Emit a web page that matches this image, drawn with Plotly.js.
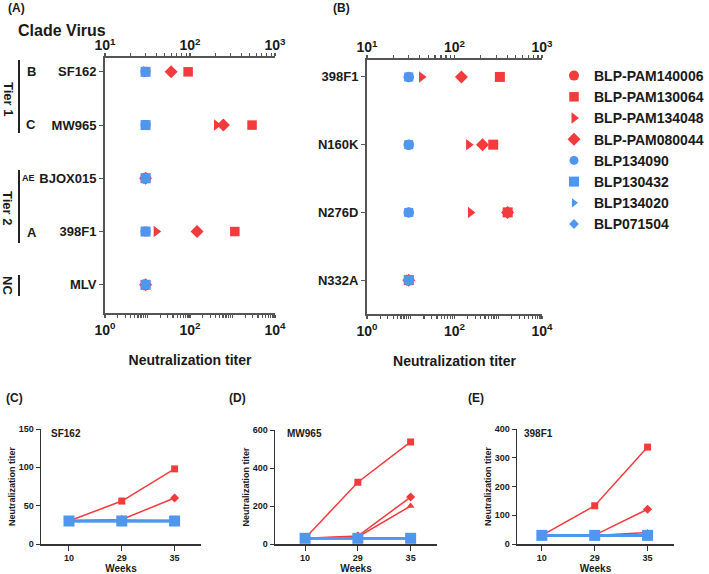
<!DOCTYPE html>
<html><head><meta charset="utf-8">
<script src="https://cdn.plot.ly/plotly-3.0.1.min.js"></script>
<style>html,body{margin:0;padding:0;background:#fff}#chart{width:709px;height:574px}</style>
</head><body><div id="chart"></div>
<script>
// ---------- DATA ----------
const seriesNames = ['BLP-PAM140006','BLP-PAM130064','BLP-PAM134048','BLP-PAM080044','BLP134090','BLP130432','BLP134020','BLP071504'];
const virusesA = ['SF162','MW965','BJOX015','398F1','MLV'];
const virusesB = ['398F1','N160K','N276D','N332A'];
const weeks = ['10','29','35'];

// Panel A titers (per virus in virusesA order)
const A_PAM140006 = [30, 30, 30, 30, 30];
const A_PAM130064 = [95, 537, 30, 337, 30];
const A_PAM134048 = [30, 205, 30, 40, 30];
const A_PAM080044 = [60, 247, 30, 121, 30];
const A_BLP134090 = [30, 30, 30, 30, 30];
const A_BLP130432 = [30, 30, 30, 30, 30];
const A_BLP134020 = [30, 30, 30, 30, 30];
const A_BLP071504 = [30, 30, 30, 30, 30];

// Panel B titers (per virus in virusesB order)
const B_PAM140006 = [30, 30, 405, 30];
const B_PAM130064 = [330, 277, 405, 30];
const B_PAM134048 = [42, 145, 152, 30];
const B_PAM080044 = [120, 209, 405, 30];
const B_BLP134090 = [30, 30, 30, 30];
const B_BLP130432 = [30, 30, 30, 30];
const B_BLP134020 = [30, 30, 30, 30];
const B_BLP071504 = [30, 30, 30, 30];

// Panel C (SF162) over weeks
const C_PAM140006 = [30, 30, 30];
const C_PAM130064 = [30, 56, 98];
const C_PAM134048 = [30, 31, 30];
const C_PAM080044 = [30, 32, 60];
const C_BLP = [30, 30, 30];
// Panel D (MW965)
const D_PAM140006 = [30, 30, 30];
const D_PAM130064 = [30, 325, 537];
const D_PAM134048 = [30, 37, 200];
const D_PAM080044 = [30, 42, 247];
const D_BLP = [30, 30, 30];
// Panel E (398F1)
const E_PAM140006 = [30, 30, 30];
const E_PAM130064 = [30, 133, 337];
const E_PAM134048 = [30, 30, 40];
const E_PAM080044 = [30, 31, 121];
const E_BLP = [30, 30, 30];

// ---------- STYLE ----------
const RED = '#f33a3d', BLUE = '#4f97ee';
const FAM = 'Liberation Sans, Arial, sans-serif';
const W = 709, H = 574;
const px = x => x / W, py = y => 1 - y / H;
const bold = (s, c) => ({family: FAM, size: s, color: c || '#1a1a1a', weight: 'bold'});

const colorsA = [RED, RED, RED, RED, BLUE, BLUE, BLUE, BLUE];
const symA = ['circle', 'square', 'triangle-right', 'diamond', 'circle', 'square', 'triangle-right', 'diamond'];
const sizeA = [10, 9.5, 10, 10, 9, 10, 8, 7.5];
const sizeB = [9.5, 10, 10, 10, 10.5, 9, 7, 8];

const dataA = [A_PAM140006, A_PAM130064, A_PAM134048, A_PAM080044, A_BLP134090, A_BLP130432, A_BLP134020, A_BLP071504];
const dataB = [B_PAM140006, B_PAM130064, B_PAM134048, B_PAM080044, B_BLP134090, B_BLP130432, B_BLP134020, B_BLP071504];

const traces = [];
// empty traces so the bottom axes exist
traces.push({type: 'scatter', x: [], y: [], xaxis: 'x', yaxis: 'y', showlegend: false, hoverinfo: 'skip'});
traces.push({type: 'scatter', x: [], y: [], xaxis: 'x3', yaxis: 'y2', showlegend: false, hoverinfo: 'skip'});

seriesNames.forEach((n, i) => {
  traces.push({type: 'scatter', mode: 'markers', name: n, x: dataA[i], y: virusesA,
    xaxis: 'x2', yaxis: 'y', showlegend: true,
    marker: {symbol: symA[i], size: sizeA[i], color: colorsA[i]}});
});
seriesNames.forEach((n, i) => {
  traces.push({type: 'scatter', mode: 'markers', name: n, x: dataB[i], y: virusesB,
    xaxis: 'x4', yaxis: 'y2', showlegend: false,
    marker: {symbol: symA[i], size: sizeB[i], color: colorsA[i]}});
});

function lineTraces(xa, ya, c, sq, tri, dia, blue) {
  const redSets = [[c, 'circle'], [sq, 'square'], [tri, 'triangle-up'], [dia, 'diamond']];
  redSets.forEach(([v, s]) => traces.push({type: 'scatter', mode: 'lines+markers', x: weeks, y: v,
    xaxis: xa, yaxis: ya, showlegend: false, line: {color: RED, width: 1.5},
    marker: {symbol: s, size: 7, color: RED}}));
  [['circle', 8], ['triangle-up', 7], ['diamond', 8], ['square', 11]].forEach(([s, z]) => traces.push({type: 'scatter', mode: 'lines+markers',
    x: weeks, y: blue, xaxis: xa, yaxis: ya, showlegend: false, line: {color: BLUE, width: 2.5},
    marker: {symbol: s, size: z, color: BLUE}}));
}
lineTraces('x5', 'y3', C_PAM140006, C_PAM130064, C_PAM134048, C_PAM080044, C_BLP);
lineTraces('x6', 'y4', D_PAM140006, D_PAM130064, D_PAM134048, D_PAM080044, D_BLP);
lineTraces('x7', 'y5', E_PAM140006, E_PAM130064, E_PAM134048, E_PAM080044, E_BLP);

// log ticks
function logTicks(lo, hi, labelled) {
  const vals = [], txt = [];
  for (let e = lo; e < hi; e++) for (let m = 1; m < 10; m++) {
    vals.push(m * Math.pow(10, e));
    txt.push(m === 1 && labelled.includes(e) ? '10<sup>' + e + '</sup>' : '');
  }
  vals.push(Math.pow(10, hi)); txt.push(labelled.includes(hi) ? '10<sup>' + hi + '</sup>' : '');
  return {vals, txt};
}
const topT = logTicks(1, 3, [1, 2, 3]);
const botT = logTicks(0, 4, [0, 2, 4]);

const AX = '#555';
function logAxis(dom, anchor, range, t, extra) {
  return Object.assign({domain: dom, anchor: anchor, type: 'log', range: range,
    tickvals: t.vals, ticktext: t.txt, tickmode: 'array', showline: true, linecolor: AX, linewidth: 2,
    ticks: 'outside', ticklen: 3, tickcolor: AX, tickwidth: 1.2, showgrid: false, zeroline: false,
    tickfont: bold(14)}, extra || {});
}
function catAxis(dom, anchor, cats, range) {
  return {domain: dom, anchor: anchor, type: 'category', categoryorder: 'array', categoryarray: cats,
    range: range, showline: true, linecolor: AX, linewidth: 2, ticks: 'outside', ticklen: 4,
    tickcolor: AX, showgrid: false, zeroline: false, tickfont: bold(13)};
}
const LX = '#333';
function wkAxis(dom, anchor, range) {
  return {domain: dom, anchor: anchor, type: 'category', categoryorder: 'array', categoryarray: weeks,
    range: range, showline: true, linecolor: LX, linewidth: 1.5, ticks: 'outside', ticklen: 5,
    tickcolor: LX, showgrid: false, zeroline: false, tickfont: bold(9),
    title: {text: 'Weeks', font: bold(10), standoff: 7}};
}
function valAxis(dom, anchor, range, dtick) {
  return {domain: dom, anchor: anchor, range: range, dtick: dtick, showline: true, linecolor: LX,
    linewidth: 1.5, ticks: 'outside', ticklen: 4, tickcolor: LX, showgrid: false, zeroline: false,
    tickfont: bold(9), title: {text: 'Neutralization titer', font: bold(9), standoff: 1}};
}

const yA = [py(313), py(58)], xAd = [px(105), px(275)];
const yB = [py(314), py(60)], xBd = [px(367), px(542)];
const yL = [py(544), py(429)];

const layout = {
  width: W, height: H, margin: {l: 0, r: 0, t: 0, b: 0},
  paper_bgcolor: '#fff', plot_bgcolor: 'rgba(0,0,0,0)', font: {family: FAM, color: '#1a1a1a'},
  xaxis: logAxis(xAd, 'y', [0, 4], botT, {title: {text: 'Neutralization titer', font: bold(14), standoff: 18}}),
  xaxis2: logAxis(xAd, 'y', [1, 3], topT, {overlaying: 'x', side: 'top', ticklabelstandoff: -3}),
  yaxis: catAxis(yA, 'x', virusesA, [4.53, -0.26]),
  xaxis3: logAxis(xBd, 'y2', [0, 4], botT, {title: {text: 'Neutralization titer', font: bold(14), standoff: 18}}),
  xaxis4: logAxis(xBd, 'y2', [1, 3], topT, {overlaying: 'x3', side: 'top', ticklabelstandoff: -3}),
  yaxis2: catAxis(yB, 'x3', virusesB, [3.5, -0.25]),
  xaxis5: wkAxis([px(41), px(201)], 'y3', [-0.53, 2.5]),
  yaxis3: valAxis(yL, 'x5', [0, 150.01], 50),
  xaxis6: wkAxis([px(275), px(437)], 'y4', [-0.57, 2.5]),
  yaxis4: valAxis([py(544), py(430)], 'x6', [0, 600.01], 200),
  xaxis7: wkAxis([px(517), px(674)], 'y5', [-0.47, 2.5]),
  yaxis5: valAxis(yL, 'x7', [0, 400.01], 100),
  showlegend: true,
  legend: {x: 1, y: py(60), xanchor: 'right', yanchor: 'top', font: bold(14), bgcolor: 'rgba(0,0,0,0)',
    tracegroupgap: 0, itemclick: false, itemsizing: 'trace'},
  shapes: [
    [60, 133], [170, 243], [275, 296]
  ].map(([a, b]) => ({type: 'line', xref: 'paper', yref: 'paper', x0: px(19), x1: px(19), y0: py(a), y1: py(b),
    line: {color: '#222', width: 2}})),
  annotations: []
};
function ann(text, x, y, size, opts) {
  layout.annotations.push(Object.assign({text: text, xref: 'paper', yref: 'paper', x: px(x), y: py(y),
    showarrow: false, font: bold(size), xanchor: 'center', yanchor: 'middle'}, opts || {}));
}
ann('(A)', 16, 8, 12);
ann('(B)', 341, 8, 12);
ann('(C)', 15, 398, 12);
ann('(D)', 238, 398, 12);
ann('(E)', 476, 398, 12);
ann('Clade Virus', 16, 30, 16, {xanchor: 'left'});
ann('Tier 1', 9, 99, 13, {textangle: 90});
ann('Tier 2', 8, 208, 13, {textangle: 90});
ann('NC', 8, 285, 13, {textangle: 90});
ann('B', 31, 72, 13);
ann('C', 31, 125, 13);
ann('AE', 28, 178, 9);
ann('A', 32, 232, 13);
ann('SF162', 49, 433, 10, {xanchor: 'left'});
ann('MW965', 285, 433, 10, {xanchor: 'left'});
ann('398F1', 522, 433, 10, {xanchor: 'left'});

Plotly.newPlot('chart', traces, layout, {staticPlot: true, displayModeBar: false});
</script></body></html>
